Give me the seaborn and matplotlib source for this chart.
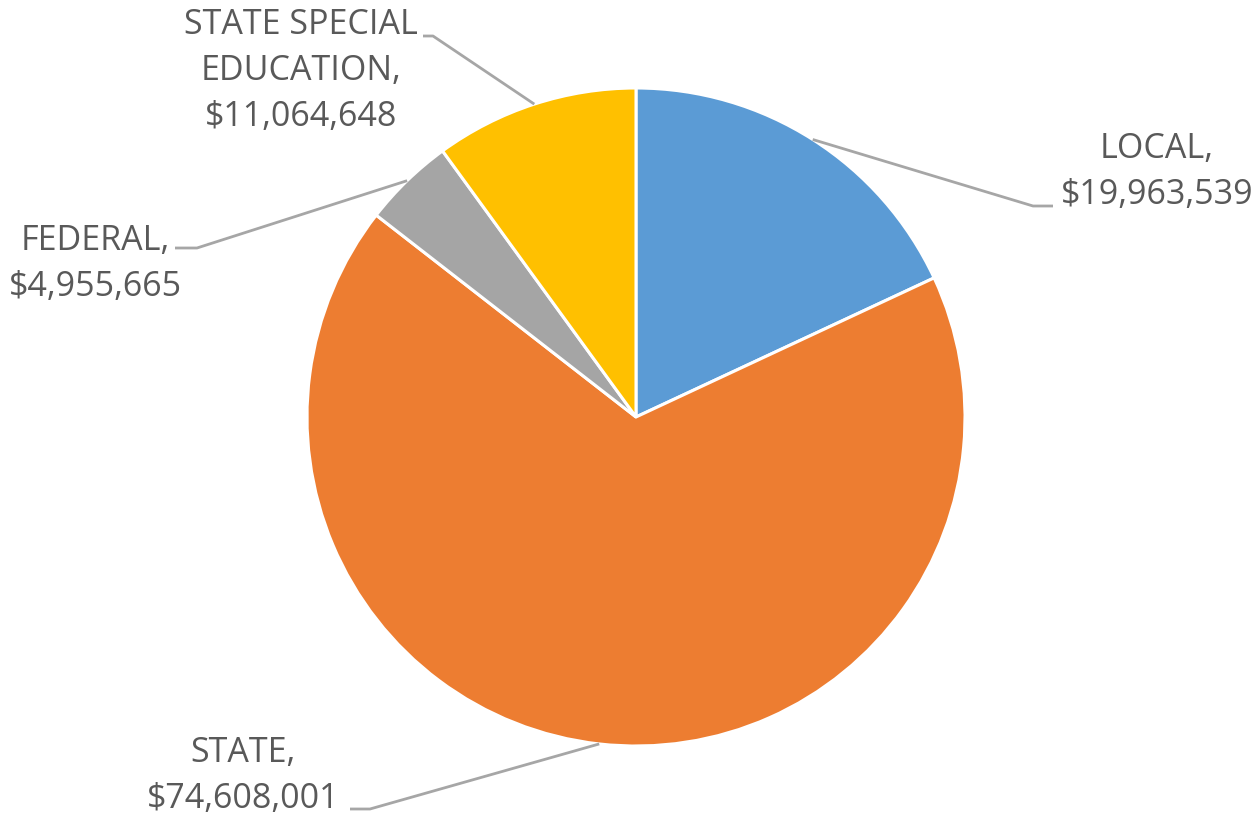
import numpy as np
import matplotlib
matplotlib.use("Agg")
import matplotlib.pyplot as plt
import seaborn as sns

# --- data ---
categories = ["LOCAL", "STATE", "FEDERAL", "STATE SPECIAL\nEDUCATION"]
amounts = [19963539, 74608001, 4955665, 11064648]
colors = ["#5B9BD5", "#ED7D31", "#A5A5A5", "#FFC000"]

# label layout in pixel coords of the 1258x816 image
label_center_x = [1157, 243, 95, 301]
label_first_baseline = [158, 762, 250, 34]
elbow_px = [(1033, 206), (370, 809), (197, 248), (433, 36)]
end_px = [(1053, 206), (350, 809), (175, 248), (423, 36)]

W, H = 1258, 816
CX, CY, R = 636, 417, 329


def px(x, y):
    return (x - CX) / R, (CY - y) / R


sns.set_theme(style="white")
plt.rcParams["font.family"] = ["Open Sans", "DejaVu Sans"]

fig = plt.figure(figsize=(W / 100, H / 100), dpi=100)
ax = fig.add_axes([0, 0, 1, 1])

wedges, _ = ax.pie(amounts, colors=colors, startangle=90, counterclock=False,
                   radius=1, center=(0, 0),
                   wedgeprops=dict(edgecolor="white", linewidth=2.2))

# pie() resets the limits, so map the axes to image pixels afterwards
ax.set_aspect("auto")
ax.set_xlim(px(0, 0)[0], px(W, 0)[0])
ax.set_ylim(px(0, H)[1], px(0, 0)[1])
ax.axis("off")

line_gap = 46
for w, name, amt, cx, by, elb, end in zip(wedges, categories, amounts,
                                          label_center_x, label_first_baseline,
                                          elbow_px, end_px):
    ang = np.deg2rad((w.theta1 + w.theta2) / 2)
    start = (np.cos(ang), np.sin(ang))
    e1 = px(*elb)
    e2 = px(*end)
    ax.plot([start[0], e1[0], e2[0]], [start[1], e1[1], e2[1]],
            color="#A6A6A6", lw=2.0, solid_capstyle="butt", zorder=1)
    lines = (name + ",").split("\n") + [f"${amt:,}"]
    for i, txt in enumerate(lines):
        x, y = px(cx, by + i * line_gap)
        ax.text(x, y, txt, ha="center", va="baseline", fontsize=24.5,
                color="#595959")

fig.savefig("out.png", dpi=100, facecolor="white")
